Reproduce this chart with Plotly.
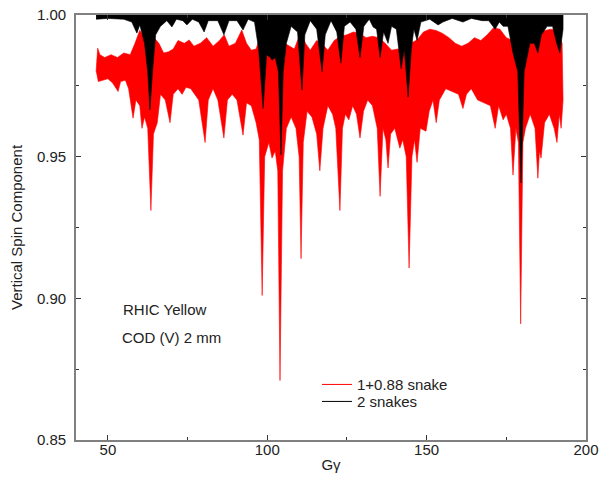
import plotly.graph_objects as go

# ---- data (envelopes of the tracked spin component) ----
# 1+0.88 snake : upper envelope
red_up_g = [46.3, 46.8, 47.5, 49.0, 51.0, 53.0, 55.0, 57.0, 58.5, 60.0, 61.5, 62.5, 63.5, 64.5, 66.0,
            67.5, 69.0, 70.5, 72.0, 74.0, 75.5, 77.0, 79.0, 81.0, 83.0, 85.0, 86.5, 88.0, 90.0, 92.0,
            93.5, 95.0, 96.5, 98.0, 99.5, 101.0, 102.5, 104.0, 105.5, 107.0, 108.5, 110.5, 112.0,
            113.5, 115.5, 117.0, 119.0, 121.0, 123.0, 125.0, 127.0, 129.0, 131.0, 133.0, 135.0,
            137.0, 139.0, 141.0, 143.0, 145.0, 147.0, 149.0, 151.0, 153.0, 155.0, 157.0, 159.0,
            161.0, 163.0, 165.0, 167.0, 169.0, 171.0, 173.0, 175.0, 177.0, 179.0, 181.0, 183.0,
            185.0, 187.0, 189.0, 191.0, 192.5, 192.8]
red_up = [0.9800, 0.9883, 0.9860, 0.9850, 0.9860, 0.9850, 0.9866, 0.9860, 0.9900, 0.9946, 0.9920,
          0.9940, 0.9950, 0.9920, 0.9900, 0.9866, 0.9870, 0.9880, 0.9910, 0.9900, 0.9912, 0.9890,
          0.9900, 0.9920, 0.9890, 0.9910, 0.9930, 0.9890, 0.9900, 0.9947, 0.9900, 0.9876, 0.9880,
          0.9930, 0.9900, 0.9894, 0.9920, 0.9940, 0.9900, 0.9890, 0.9880, 0.9940, 0.9900, 0.9876,
          0.9910, 0.9900, 0.9876, 0.9910, 0.9925, 0.9930, 0.9940, 0.9935, 0.9920, 0.9925, 0.9920,
          0.9900, 0.9876, 0.9880, 0.9876, 0.9900, 0.9912, 0.9940, 0.9950, 0.9945, 0.9935, 0.9920,
          0.9900, 0.9890, 0.9900, 0.9920, 0.9910, 0.9930, 0.9955, 0.9950, 0.9920, 0.9910, 0.9930,
          0.9940, 0.9935, 0.9940, 0.9945, 0.9950, 0.9945, 0.9900, 0.9700]

# 1+0.88 snake : lower envelope
red_lo_g = [46.4, 47.0, 48.5, 50.0, 51.5, 53.2, 54.0, 55.5, 56.5, 57.9, 58.8, 60.0, 60.7, 61.5, 62.5,
            63.5, 64.3, 65.5, 66.5, 68.0, 69.5, 70.5, 72.0, 73.3, 74.5, 76.0, 78.5, 80.5, 81.5, 83.0,
            84.5, 86.4, 87.5, 89.0, 90.5, 92.4, 93.5, 95.0, 96.5, 97.5, 98.4, 99.2, 100.5, 101.5,
            102.5, 103.3, 104.0, 104.8, 106.0, 107.5, 109.0, 110.0, 110.6, 111.3, 112.5, 114.0,
            115.5, 116.5, 117.5, 119.0, 120.5, 121.5, 122.8, 123.6, 124.5, 125.6, 126.8, 128.0,
            129.1, 130.2, 131.5, 133.0, 134.5, 135.4, 136.3, 137.2, 137.9, 138.7, 140.0, 141.6,
            142.5, 143.6, 144.5, 145.4, 146.2, 147.0, 148.0, 149.8, 150.8, 152.0, 153.0, 154.0,
            156.0, 158.0, 160.0, 161.4, 162.5, 164.0, 166.0, 168.0, 170.0, 171.5, 172.6, 174.0,
            175.0, 176.3, 177.1, 178.0, 178.8, 179.5, 180.2, 181.0, 182.5, 184.0, 184.9, 185.4,
            185.9, 187.0, 188.5, 190.0, 190.9, 191.6, 192.2, 192.8]
red_lo = [0.9800, 0.9765, 0.9770, 0.9775, 0.9760, 0.9730, 0.9765, 0.9770, 0.9740, 0.9636, 0.9700,
          0.9680, 0.9600, 0.9640, 0.9600, 0.9310, 0.9580, 0.9620, 0.9720, 0.9700, 0.9620, 0.9720,
          0.9740, 0.9720, 0.9745, 0.9740, 0.9700, 0.9550, 0.9700, 0.9740, 0.9700, 0.9566, 0.9700,
          0.9720, 0.9700, 0.9576, 0.9690, 0.9680, 0.9620, 0.9560, 0.9010, 0.9500, 0.9550, 0.9495,
          0.9520, 0.9450, 0.8710, 0.9450, 0.9600, 0.9640, 0.9600, 0.9500, 0.9140, 0.9550, 0.9660,
          0.9640, 0.9580, 0.9450, 0.9600, 0.9680, 0.9650, 0.9600, 0.9310, 0.9600, 0.9650, 0.9630,
          0.9680, 0.9650, 0.9566, 0.9660, 0.9700, 0.9680, 0.9600, 0.9360, 0.9600, 0.9560, 0.9460,
          0.9580, 0.9600, 0.9530, 0.9560, 0.9500, 0.9107, 0.9500, 0.9560, 0.9480, 0.9600, 0.9590,
          0.9660, 0.9700, 0.9620, 0.9700, 0.9740, 0.9730, 0.9720, 0.9670, 0.9720, 0.9740, 0.9700,
          0.9690, 0.9680, 0.9600, 0.9680, 0.9630, 0.9650, 0.9600, 0.9435, 0.9600, 0.9550, 0.8910,
          0.9550, 0.9600, 0.9650, 0.9600, 0.9424, 0.9520, 0.9495, 0.9620, 0.9650, 0.9600, 0.9550,
          0.9650, 0.9600, 0.9700]

# 2 snakes : upper and lower envelope
blk_up_g = [46.3, 192.8]
blk_up = [1.0, 1.0]
blk_lo_g = [46.3, 50.0, 55.0, 57.5, 59.1, 60.0, 60.7, 61.5, 62.5, 63.2, 64.0, 65.0, 66.5, 68.5, 70.1,
            71.5, 73.5, 74.8, 76.5, 78.5, 80.2, 81.5, 84.5, 86.4, 88.0, 90.5, 92.4, 94.0, 96.0,
            97.3, 98.7, 99.8, 101.0, 101.5, 102.5, 103.5, 104.3, 105.0, 106.0, 107.5, 109.5, 110.9,
            111.8, 113.5, 115.5, 117.2, 118.2, 120.0, 121.8, 123.1, 124.2, 126.0, 127.8, 129.1,
            130.3, 132.0, 133.2, 134.3, 135.4, 136.5, 137.9, 139.0, 140.5, 142.0, 143.0, 144.2,
            145.2, 146.0, 147.0, 148.2, 151.0, 153.6, 155.1, 158.0, 161.4, 164.0, 167.4, 169.5,
            171.5, 172.8, 174.0, 175.5, 177.1, 178.6, 179.6, 180.6, 182.4, 183.8, 184.9, 186.0,
            187.8, 189.5, 190.8, 191.8, 192.8]
blk_lo = [0.9985, 0.9988, 0.9985, 0.9975, 0.9936, 0.9965, 0.9936, 0.9900, 0.9800, 0.9665, 0.9800,
          0.9930, 0.9960, 0.9980, 0.9958, 0.9985, 0.9980, 0.9965, 0.9985, 0.9975, 0.9940, 0.9980,
          0.9980, 0.9930, 0.9980, 0.9980, 0.9947, 0.9985, 0.9975, 0.9880, 0.9670, 0.9860, 0.9850,
          0.9840, 0.9850, 0.9800, 0.9506, 0.9800, 0.9900, 0.9960, 0.9940, 0.9735, 0.9930, 0.9980,
          0.9950, 0.9800, 0.9930, 0.9980, 0.9940, 0.9830, 0.9960, 0.9975, 0.9950, 0.9850, 0.9960,
          0.9985, 0.9958, 0.9950, 0.9850, 0.9940, 0.9900, 0.9960, 0.9950, 0.9810, 0.9880, 0.9710,
          0.9880, 0.9950, 0.9910, 0.9975, 0.9985, 0.9965, 0.9975, 0.9988, 0.9975, 0.9988, 0.9980,
          0.9980, 0.9950, 0.9975, 0.9960, 0.9960, 0.9866, 0.9800, 0.9407, 0.9800, 0.9900, 0.9900,
          0.9866, 0.9930, 0.9960, 0.9960, 0.9900, 0.9866, 0.9950]

series_names = ["1+0.88 snake", "2 snakes"]
series_colors = ["#ff0000", "#000000"]
x_ticks = [50, 100, 150, 200]
y_ticks = [0.85, 0.90, 0.95, 1.00]

FONT = "Liberation Sans, Arial, sans-serif"
TXT = "#222222"

fig = go.Figure()

def band(xu, yu, xl, yl, color):
    return go.Scatter(x=list(xu) + list(xl)[::-1], y=list(yu) + list(yl)[::-1],
                      mode="lines", fill="toself", fillcolor=color,
                      line=dict(color=color, width=0.6), hoverinfo="skip", showlegend=False)

fig.add_trace(band(red_up_g, red_up, red_lo_g, red_lo, series_colors[0]))
fig.add_trace(band(blk_up_g, blk_up, blk_lo_g, blk_lo, series_colors[1]))

for name, col, lg in zip(series_names, series_colors, ["legend", "legend2"]):
    fig.add_trace(go.Scatter(x=[None], y=[None], mode="lines", name=name, legend=lg,
                             line=dict(color=col, width=1)))

axis_common = dict(showline=True, linecolor="#808080", linewidth=1.6, mirror="ticks",
                   ticks="inside", tickcolor="#333333", ticklen=5, tickwidth=1, showgrid=False,
                   zeroline=False, automargin=False, ticklabeloverflow="allow",
                   tickfont=dict(family=FONT, size=15, color=TXT))

leg_common = dict(xanchor="left", yanchor="top", bgcolor="rgba(0,0,0,0)",
                  font=dict(family=FONT, size=15, color=TXT), itemwidth=30)

fig.update_layout(
    width=599, height=483,
    margin=dict(l=76, r=13, t=15, b=43),
    paper_bgcolor="white", plot_bgcolor="white",
    font=dict(family=FONT, size=15, color=TXT),
    xaxis=dict(range=[40, 200], tickvals=x_ticks, ticktext=[str(v) for v in x_ticks],
               minor=dict(ticks="inside", dtick=25, tick0=0, ticklen=3, tickcolor="#333333"),
               title=dict(text="Gγ", font=dict(family=FONT, size=15, color=TXT), standoff=3),
               ticklabelstandoff=-5, **axis_common),
    yaxis=dict(range=[0.85, 1.0], tickvals=y_ticks, ticktext=[f"{v:.2f}" for v in y_ticks],
               minor=dict(ticks="inside", dtick=0.025, tick0=0.85, ticklen=3, tickcolor="#333333"),
               title=dict(text="Vertical Spin Component", font=dict(family=FONT, size=15, color=TXT),
                          standoff=11),
               ticklabelstandoff=5, **axis_common),
    legend=dict(x=0.4725, y=0.169, **leg_common),
    legend2=dict(x=0.4725, y=0.129, **leg_common),
    showlegend=True,
)

fig.add_annotation(text="RHIC Yellow", x=0.088, y=0.306, xref="paper", yref="paper",
                   xanchor="left", yanchor="middle", showarrow=False,
                   font=dict(family=FONT, size=15, color=TXT))
fig.add_annotation(text="COD (V) 2 mm", x=0.086, y=0.242, xref="paper", yref="paper",
                   xanchor="left", yanchor="middle", showarrow=False,
                   font=dict(family=FONT, size=15, color=TXT))

fig.write_html("out.html", config={"displayModeBar": False},
               post_script="document.body.style.margin='0';document.body.style.overflow='hidden';")
